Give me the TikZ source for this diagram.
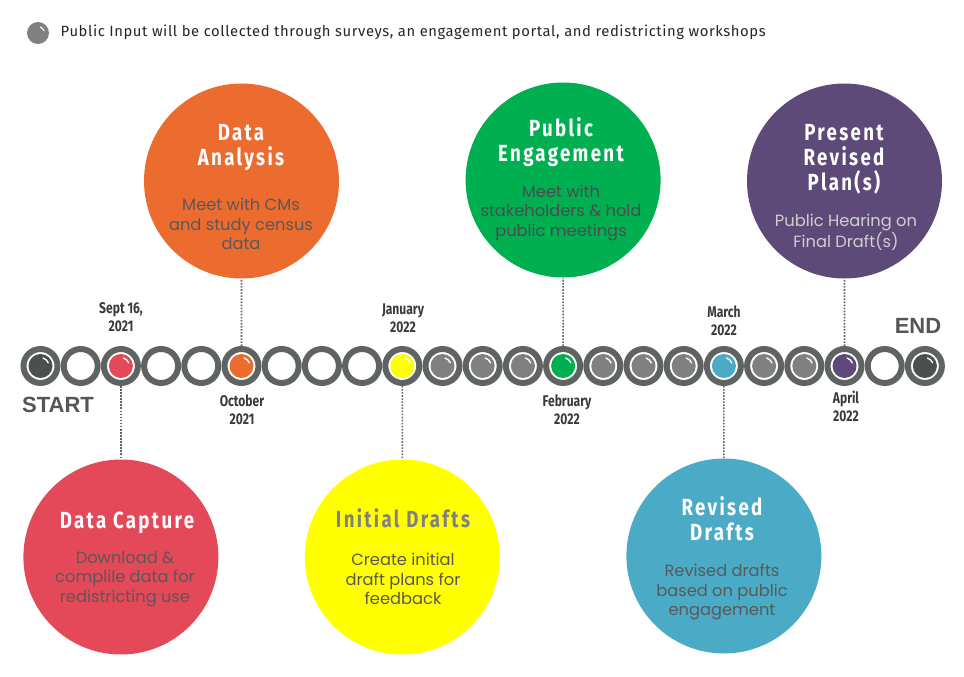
\documentclass[tikz,border=0pt]{standalone}
\usepackage{fontspec}
\setmainfont{Poppins}
\newfontfamily\titlefont[FakeStretch=0.8,LetterSpace=10]{Fira Sans}
\newfontfamily\datefont[FakeStretch=0.78]{Fira Sans}
\newfontfamily\headfont[LetterSpace=4]{Fira Sans}
\newfontfamily\endfont{Liberation Sans}
\definecolor{cOrange}{HTML}{EC6C30}
\definecolor{cRed}{HTML}{E34958}
\definecolor{cGreen}{HTML}{00AF50}
\definecolor{cYellow}{HTML}{FFFF00}
\definecolor{cBlue}{HTML}{4BABC6}
\definecolor{cPurple}{HTML}{5E4A78}
\definecolor{ringgray}{HTML}{5F6462}
\definecolor{dotgray}{HTML}{808080}
\definecolor{darkdot}{HTML}{4B4F50}
\definecolor{textgray}{HTML}{595959}
\definecolor{dategray}{HTML}{3A3A3A}
\definecolor{startgray}{HTML}{555555}
\definecolor{lightgraytext}{HTML}{CFCFCF}
\begin{document}
\begin{tikzpicture}[x=0.75pt,y=-0.75pt,
  stage/.style={circle, inner sep=0pt, minimum size=146.25pt},
  ring/.style={circle, draw=ringgray, line width=4.5pt, fill=white, minimum size=25.5pt, inner sep=0pt},
  beaddot/.style={circle, inner sep=0pt, minimum size=18pt},
  conn/.style={draw=ringgray, line width=1.2pt, dash pattern=on 1.2pt off 1.1pt},
  stitle/.style={align=center, text=white, font=\titlefont\bfseries\fontsize{17.5}{18.75}\selectfont},
  sbody/.style={align=center, text=textgray, font=\fontsize{12.2}{14.5}\selectfont},
  datelbl/.style={align=center, text=dategray, font=\datefont\bfseries\fontsize{11.6}{13.5}\selectfont},
  endlbl/.style={text=startgray, font=\endfont\bfseries\fontsize{16.5}{18}\selectfont}]
\useasboundingbox (0,0) rectangle (964,677);

% header
\node[beaddot, fill=dotgray, minimum size=16.5pt] (icon) at (38,33) {};
\draw[white, line width=0.8pt, line cap=round] (icon.center) ++(70:4.8pt) arc[start angle=70, end angle=20, radius=4.8pt];
\node[anchor=west, text=black!85, font=\headfont\fontsize{11.1}{12}\selectfont] (head) at (56,32)
  {Public Input will be collected through surveys, an engagement portal, and redistricting workshops};

% stage circles
\node[stage, fill=cOrange] (da) at (241.5,181) {};
\node[stage, fill=cGreen] (pe) at (563.1,180) {};
\node[stage, fill=cPurple] (pr) at (844.5,181) {};
\node[stage, fill=cRed] (dc) at (120.9,557) {};
\node[stage, fill=cYellow] (id) at (402.3,557) {};
\node[stage, fill=cBlue] (rd) at (723.9,556) {};

% beads
\foreach \i/\c in {1/darkdot,2/white,3/cRed,4/white,5/white,6/cOrange,7/white,8/white,9/white,10/cYellow,11/dotgray,12/dotgray,13/dotgray,14/cGreen,15/dotgray,16/dotgray,17/dotgray,18/cBlue,19/dotgray,20/dotgray,21/cPurple,22/white,23/darkdot}{
  \node[ring] (b\i) at ({40.5+(\i-1)*40.2},366) {};
  \node[beaddot, fill=\c] (d\i) at (b\i) {};
  \draw[white, line width=1pt, line cap=round] (d\i.center) ++(72:6.3pt) arc[start angle=72, end angle=22, radius=6.3pt];
}

% connectors
\draw[conn] (b6) -- (da);
\draw[conn] (b14) -- (pe);
\draw[conn] (b21) -- (pr);
\draw[conn] (b3) -- (dc);
\draw[conn] (b10) -- (id);
\draw[conn] (b18) -- (rd);

% stage texts
\node[stitle] (tda) at (241,147.5) {Data\\Analysis};
\node[sbody] (xda) at (241,224) {Meet with CMs\\and study census\\data};
\node[stitle] (tpe) at (561,142.5) {Public\\Engagement};
\node[sbody, text=textgray!85!black] (xpe) at (561,213) {Meet with\\stakeholders \& hold\\public meetings};
\node[stitle] (tpr) at (844,159) {Present\\Revised\\Plan(s)};
\node[sbody, text=lightgraytext] (xpr) at (846,232) {Public Hearing on\\Final Draft(s)};
\node[stitle] (tdc) at (127,522.5) {Data Capture};
\node[sbody] (xdc) at (125,579) {Download \&\\complile data for\\redistricting use};
\node[stitle, text=dotgray] (tid) at (403,518.5) {Initial Drafts};
\node[sbody] (xid) at (403,579) {Create initial\\draft plans for\\feedback};
\node[stitle] (trd) at (722,519) {Revised\\Drafts};
\node[sbody] (xrd) at (722,592) {Revised drafts\\based on public\\engagement};

% dates
\node[datelbl] (l3) at (121,317) {Sept 16,\\2021};
\node[datelbl] (l6) at (242,410) {October\\2021};
\node[datelbl] (l10) at (403,318) {January\\2022};
\node[datelbl] (l14) at (567,410) {February\\2022};
\node[datelbl] (l18) at (724,321) {March\\2022};
\node[datelbl] (l21) at (846,406) {April\\2022};
\node[endlbl] (start) at (58,405) {START};
\node[endlbl] (end) at (918,326) {END};
\end{tikzpicture}
\end{document}
